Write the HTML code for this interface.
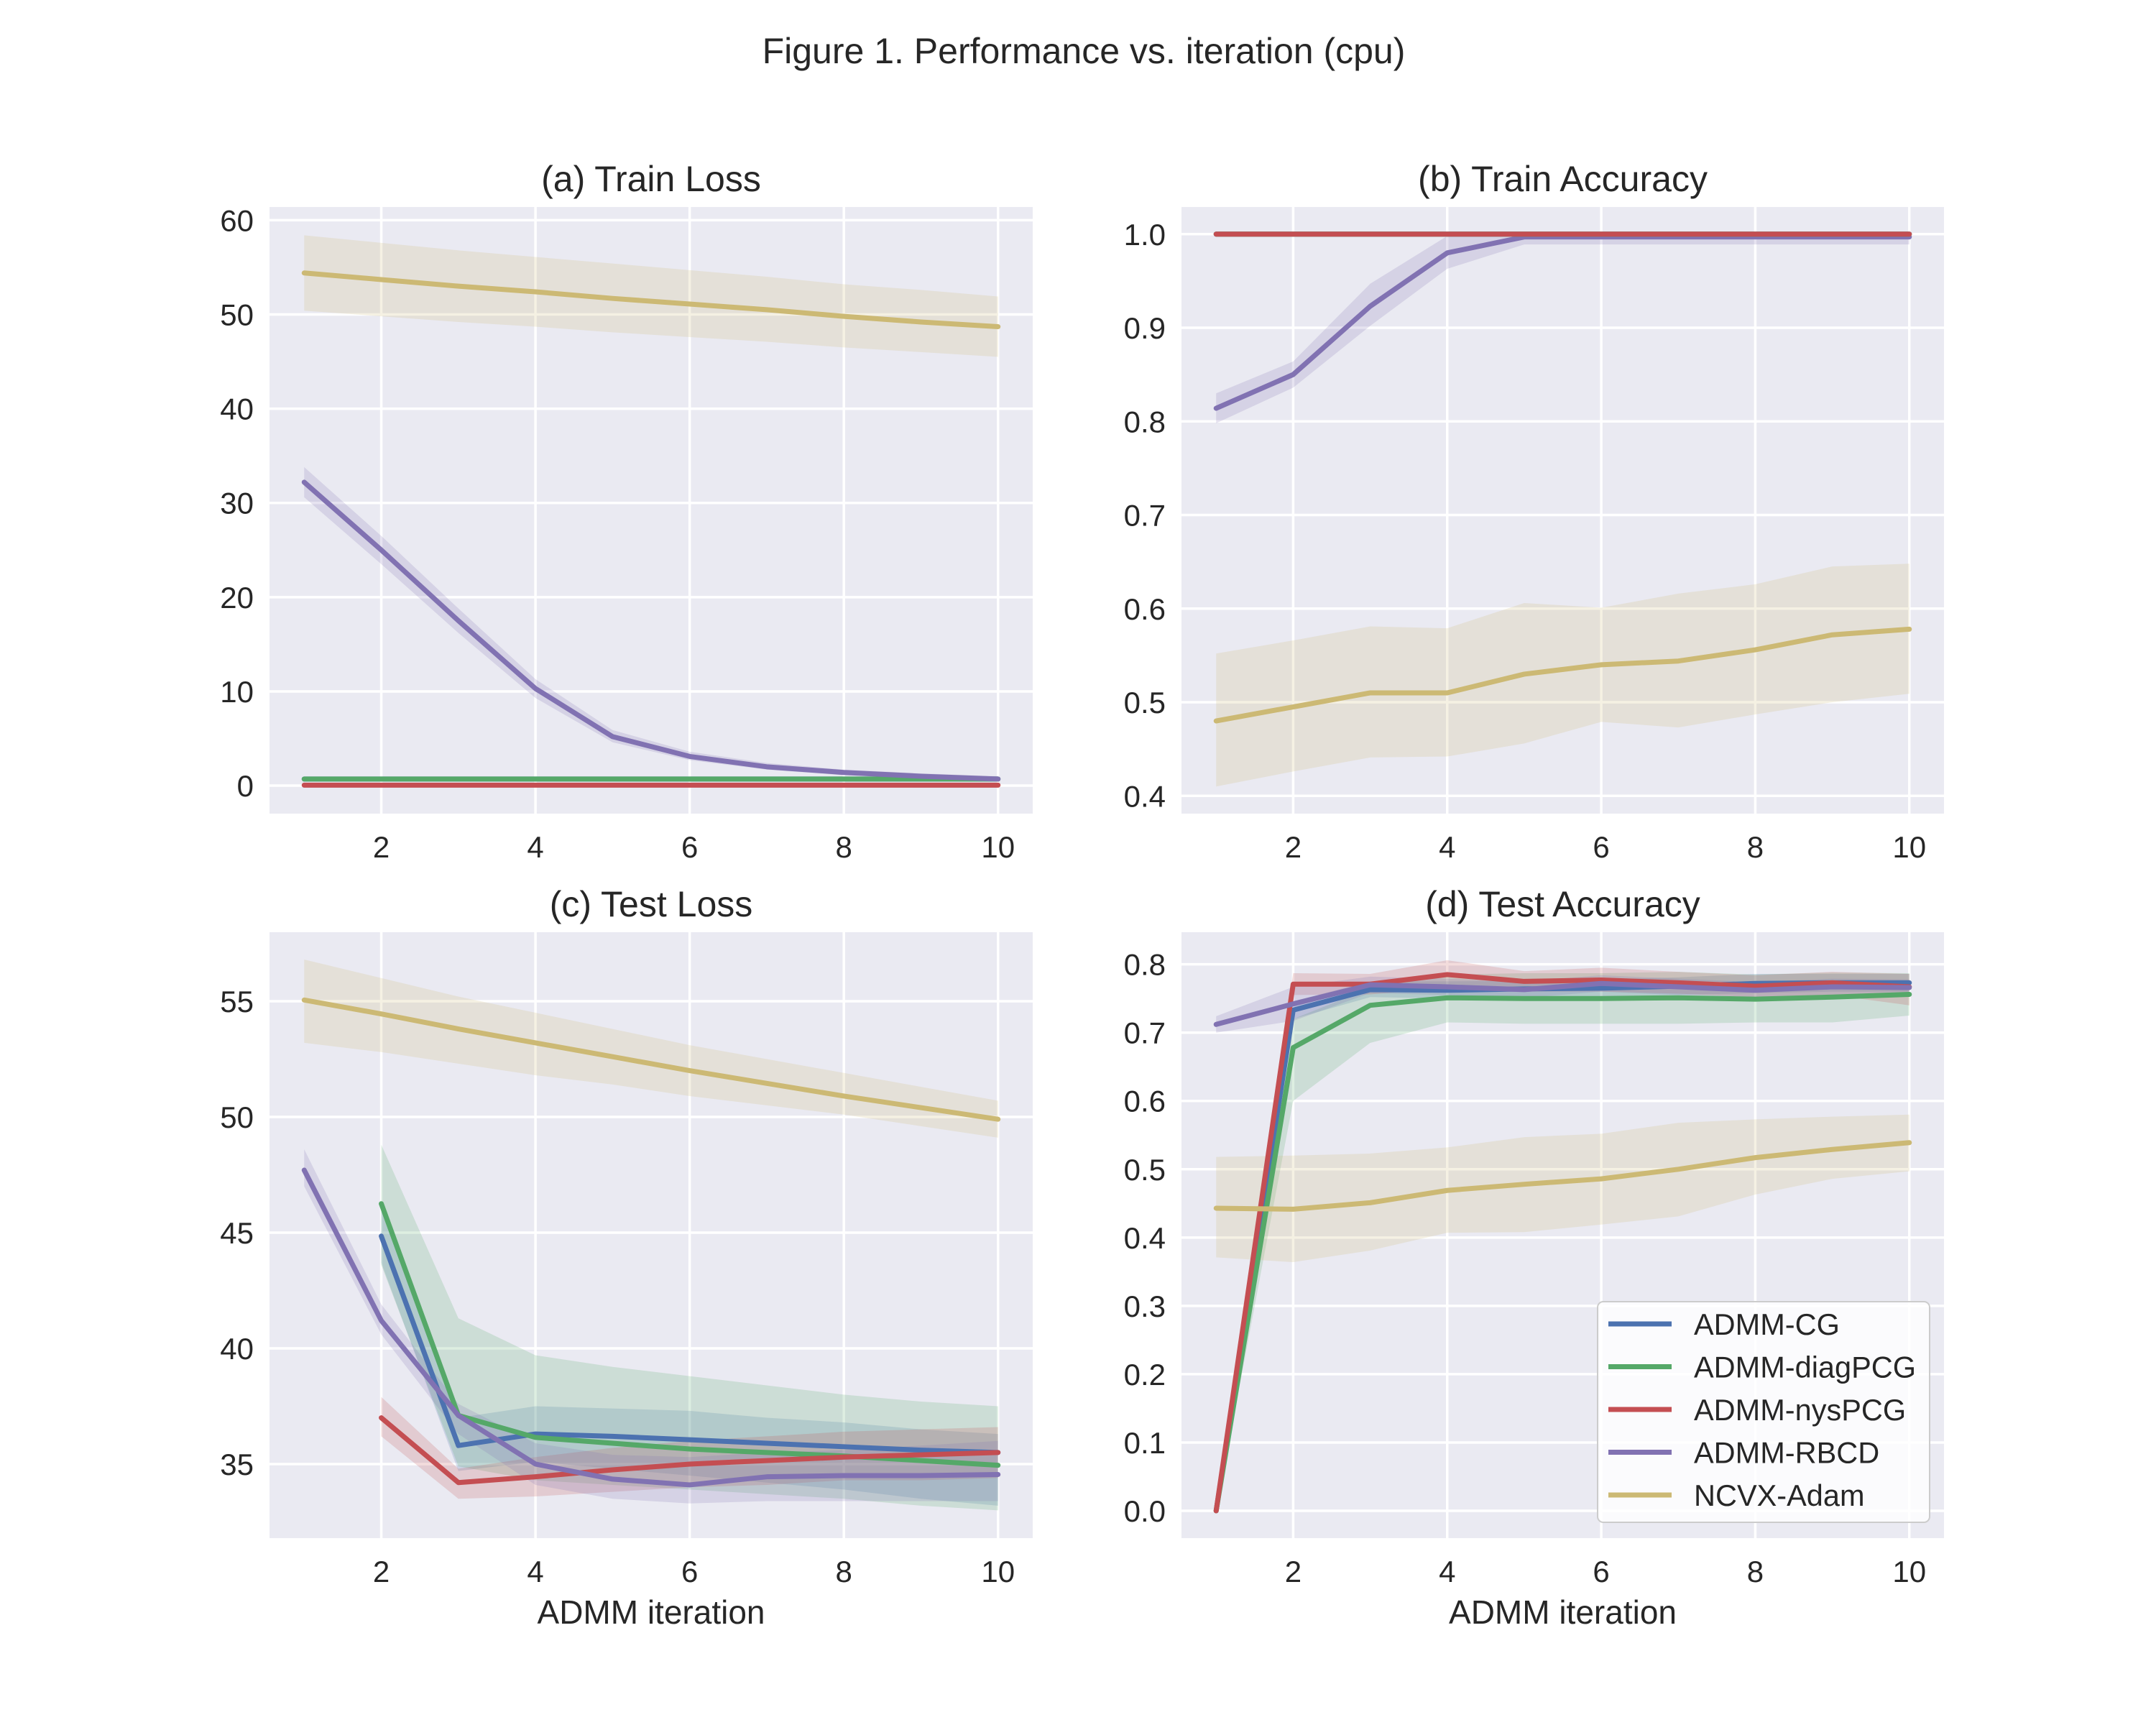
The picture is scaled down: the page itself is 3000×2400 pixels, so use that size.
<!DOCTYPE html>
<html><head><meta charset="utf-8"><style>
html,body{margin:0;padding:0;background:#fff;}
svg{display:block;font-family:"Liberation Sans",Arial,sans-serif;}
</style></head><body>
<svg id="fig" width="3000" height="2400" viewBox="0 0 3000 2400" xmlns="http://www.w3.org/2000/svg">
<rect width="3000" height="2400" fill="#fff"/>
<text x="1508" y="88" font-size="50" text-anchor="middle" fill="#262626">Figure 1. Performance vs. iteration (cpu)</text>
</svg>
<script>
const iters = [1,2,3,4,5,6,7,8,9,10];
// (a) Train Loss
const aCG = [0.7,0.7,0.7,0.7,0.7,0.7,0.7,0.7,0.7,0.7];
const aDiag = [0.7,0.7,0.7,0.7,0.7,0.7,0.7,0.7,0.7,0.7];
const aNys = [0.05,0.05,0.05,0.05,0.05,0.05,0.05,0.05,0.05,0.05];
const aRbcd = [32.2,25.0,17.5,10.3,5.2,3.1,2.0,1.4,1.0,0.7];
const aRbcdLo = [30.6,23.5,16.2,9.3,4.6,2.7,1.7,1.1,0.8,0.5];
const aRbcdHi = [33.8,26.5,18.8,11.3,5.9,3.6,2.4,1.7,1.3,1.0];
const aAdam = [54.4,53.7,53.0,52.4,51.7,51.1,50.5,49.8,49.2,48.7];
const aAdamLo = [50.4,49.8,49.2,48.7,48.1,47.6,47.1,46.5,46.0,45.5];
const aAdamHi = [58.4,57.6,56.8,56.1,55.4,54.7,54.0,53.2,52.6,51.9];
const aTicks = [0,10,20,30,40,50,60];
// (b) Train Accuracy
const bCG = [1,1,1,1,1,1,1,1,1,1];
const bDiag = [1,1,1,1,1,1,1,1,1,1];
const bNys = [1,1,1,1,1,1,1,1,1,1];
const bRbcd = [0.814,0.850,0.923,0.980,0.997,0.997,0.997,0.997,0.997,0.997];
const bRbcdLo = [0.798,0.836,0.902,0.963,0.989,0.989,0.989,0.989,0.989,0.989];
const bRbcdHi = [0.830,0.864,0.947,0.998,1.0,1.0,1.0,1.0,1.0,1.0];
const bAdam = [0.48,0.495,0.51,0.51,0.53,0.54,0.544,0.556,0.572,0.578];
const bAdamLo = [0.41,0.426,0.441,0.442,0.456,0.479,0.473,0.487,0.5,0.509];
const bAdamHi = [0.552,0.566,0.581,0.579,0.606,0.601,0.616,0.626,0.645,0.648];
const bTicks = [0.4,0.5,0.6,0.7,0.8,0.9,1.0];
// (c) Test Loss (ADMM-CG/diag/nys start at iteration 2)
const cCG = [null,44.85,35.8,36.3,36.2,36.05,35.9,35.75,35.6,35.5];
const cCGLo = [null,43.7,34.7,35.1,34.8,34.5,34.2,33.9,33.5,33.2];
const cCGHi = [null,46.0,37.0,37.5,37.4,37.3,37.0,36.8,36.5,36.3];
const cDiag = [null,46.25,37.1,36.15,35.9,35.65,35.5,35.35,35.15,34.95];
const cDiagLo = [null,43.6,34.9,34.3,34.1,33.9,33.7,33.5,33.2,33.0];
const cDiagHi = [null,48.8,41.3,39.7,39.2,38.8,38.4,38.0,37.7,37.5];
const cNys = [null,37.0,34.2,34.45,34.75,35.0,35.15,35.3,35.4,35.5];
const cNysLo = [null,36.2,33.5,33.6,33.8,34.0,34.1,34.3,34.3,34.4];
const cNysHi = [null,37.9,34.8,35.3,35.7,36.0,36.2,36.4,36.5,36.6];
const cRbcd = [47.7,41.2,37.1,35.0,34.35,34.1,34.45,34.5,34.5,34.55];
const cRbcdLo = [47.0,40.6,36.3,34.1,33.5,33.3,33.4,33.4,33.4,33.4];
const cRbcdHi = [48.6,41.9,37.6,35.9,35.4,35.3,35.5,35.6,35.8,36.0];
const cAdam = [55.05,54.45,53.8,53.2,52.6,52.0,51.45,50.9,50.4,49.9];
const cAdamLo = [53.2,52.8,52.3,51.8,51.4,50.9,50.5,50.1,49.6,49.1];
const cAdamHi = [56.8,56.0,55.2,54.5,53.8,53.1,52.5,51.9,51.3,50.7];
const cTicks = [35,40,45,50,55];
// (d) Test Accuracy
const dCG = [0,0.733,0.763,0.762,0.764,0.765,0.768,0.772,0.773,0.773];
const dCGLo = [0,0.72,0.752,0.75,0.752,0.752,0.755,0.758,0.76,0.76];
const dCGHi = [0,0.746,0.775,0.775,0.776,0.778,0.781,0.786,0.786,0.786];
const dDiag = [0,0.678,0.740,0.751,0.750,0.750,0.751,0.749,0.752,0.756];
const dDiagLo = [0,0.60,0.685,0.715,0.713,0.713,0.713,0.715,0.715,0.725];
const dDiagHi = [0,0.72,0.765,0.785,0.787,0.787,0.789,0.785,0.788,0.787];
const dNys = [0,0.771,0.771,0.785,0.775,0.777,0.773,0.768,0.773,0.767];
const dNysLo = [0,0.755,0.756,0.765,0.76,0.76,0.757,0.752,0.755,0.74];
const dNysHi = [0,0.787,0.786,0.806,0.79,0.795,0.789,0.784,0.789,0.786];
const dRbcd = [0.712,0.742,0.770,0.767,0.763,0.772,0.767,0.762,0.767,0.766];
const dRbcdLo = [0.70,0.717,0.758,0.755,0.751,0.760,0.755,0.750,0.755,0.754];
const dRbcdHi = [0.724,0.767,0.782,0.779,0.775,0.784,0.779,0.774,0.779,0.778];
const dAdam = [0.443,0.4415,0.451,0.469,0.478,0.486,0.50,0.517,0.529,0.539];
const dAdamLo = [0.371,0.364,0.381,0.407,0.408,0.419,0.431,0.463,0.486,0.497];
const dAdamHi = [0.518,0.52,0.523,0.532,0.547,0.552,0.568,0.573,0.577,0.58];
const dTicks = [0.0,0.1,0.2,0.3,0.4,0.5,0.6,0.7,0.8];
const xTicks = [2,4,6,8,10];
const seriesNames = ["ADMM-CG","ADMM-diagPCG","ADMM-nysPCG","ADMM-RBCD","NCVX-Adam"];
const seriesColors = ["#4c72b0","#55a868","#c44e52","#8172b2","#ccb974"];

const NS = "http://www.w3.org/2000/svg";
const svg = document.getElementById("fig");
function mk(tag, attrs, parent){
  const e = document.createElementNS(NS, tag);
  for (const k in attrs) e.setAttribute(k, attrs[k]);
  (parent||svg).appendChild(e);
  return e;
}
function fmt(v, dec){ return v.toFixed(dec); }

function panel(p){
  const g = mk("g", {});
  
  
  const xs = v => p.L + (v - 0.55) / (10.45 - 0.55) * (p.R - p.L);
  const ys = v => p.B - (v - p.ymin) / (p.ymax - p.ymin) * (p.B - p.T);
  const bg = mk("rect", {x:p.L, y:p.T, width:p.R-p.L, height:p.B-p.T, fill:"#eaeaf2"}, g);
  
  
  xTicks.forEach(t => {
    const ln = mk("line", {x1:xs(t), x2:xs(t), y1:p.T, y2:p.B, stroke:"#fff", "stroke-width":3.5}, g);
    
    
    const tx = mk("text", {x:xs(t), y:p.tickY, "font-size":42, "text-anchor":"middle", fill:"#262626"}, g);
    tx.textContent = t;
    
    
  });
  p.ticks.forEach(t => {
    const ln = mk("line", {x1:p.L, x2:p.R, y1:ys(t), y2:ys(t), stroke:"#fff", "stroke-width":3.5}, g);
    
    
    const tx = mk("text", {x:p.L-22, y:ys(t)+15, "font-size":42, "text-anchor":"end", fill:"#262626"}, g);
    tx.textContent = fmt(t, p.dec);
    
    
  });
  const ti = mk("text", {x:(p.L+p.R)/2, y:p.T-22, "font-size":50, "text-anchor":"middle", fill:"#262626"}, g);
  ti.textContent = p.title;
  
  
  if (p.xlabel){
    const xl = mk("text", {x:(p.L+p.R)/2, y:2259, "font-size":46, "text-anchor":"middle", fill:"#262626"}, g);
    xl.textContent = p.xlabel;
    
    
  }
  p.series.forEach((s, i) => {
    if (!s.lo) return;
    const idx = iters.map((v,j)=>j).filter(j => s.lo[j] !== null);
    let d = idx.map((j,k) => (k?"L":"M") + xs(iters[j]) + "," + ys(s.hi[j])).join(" ");
    d += " " + idx.slice().reverse().map(j => "L" + xs(iters[j]) + "," + ys(s.lo[j])).join(" ") + "Z";
    const band = mk("path", {d:d, fill:seriesColors[s.c], "fill-opacity":0.2, stroke:"none"}, g);
    
    
  });
  p.series.forEach((s, i) => {
    const idx = iters.map((v,j)=>j).filter(j => s.m[j] !== null);
    const pts = idx.map(j => xs(iters[j]) + "," + ys(s.m[j])).join(" ");
    const pl = mk("polyline", {points:pts, fill:"none", stroke:seriesColors[s.c], "stroke-width":7, "stroke-linecap":"round", "stroke-linejoin":"round"}, g);
    
    
  });
}

panel({name:"panel-train-loss", title:"(a) Train Loss", L:375, R:1437, T:288, B:1132, ymin:-2.97, ymax:61.4, ticks:aTicks, dec:0, tickY:1193,
  series:[{c:0,m:aCG},{c:1,m:aDiag},{c:2,m:aNys},{c:3,m:aRbcd,lo:aRbcdLo,hi:aRbcdHi},{c:4,m:aAdam,lo:aAdamLo,hi:aAdamHi}]});
panel({name:"panel-train-accuracy", title:"(b) Train Accuracy", L:1644, R:2705, T:288, B:1132, ymin:0.381, ymax:1.029, ticks:bTicks, dec:1, tickY:1193,
  series:[{c:3,m:bRbcd,lo:bRbcdLo,hi:bRbcdHi},{c:0,m:bCG},{c:1,m:bDiag},{c:2,m:bNys},{c:4,m:bAdam,lo:bAdamLo,hi:bAdamHi}]});
panel({name:"panel-test-loss", title:"(c) Test Loss", L:375, R:1437, T:1297, B:2140, ymin:31.8, ymax:57.98, ticks:cTicks, dec:0, tickY:2201, xlabel:"ADMM iteration",
  series:[{c:0,m:cCG,lo:cCGLo,hi:cCGHi},{c:1,m:cDiag,lo:cDiagLo,hi:cDiagHi},{c:2,m:cNys,lo:cNysLo,hi:cNysHi},{c:3,m:cRbcd,lo:cRbcdLo,hi:cRbcdHi},{c:4,m:cAdam,lo:cAdamLo,hi:cAdamHi}]});
panel({name:"panel-test-accuracy", title:"(d) Test Accuracy", L:1644, R:2705, T:1297, B:2140, ymin:-0.040, ymax:0.847, ticks:dTicks, dec:1, tickY:2201, xlabel:"ADMM iteration",
  series:[{c:0,m:dCG,lo:dCGLo,hi:dCGHi},{c:1,m:dDiag,lo:dDiagLo,hi:dDiagHi},{c:2,m:dNys,lo:dNysLo,hi:dNysHi},{c:3,m:dRbcd,lo:dRbcdLo,hi:dRbcdHi},{c:4,m:dAdam,lo:dAdamLo,hi:dAdamHi}]});

const lg = mk("g", {});


const lbox = mk("rect", {x:2223, y:1811, width:462, height:307, rx:8, fill:"#ffffff", "fill-opacity":0.8, stroke:"#cccccc", "stroke-width":2}, lg);


seriesNames.forEach((n, i) => {
  const y = 1842 + i * 59.5;
  const ln = mk("line", {x1:2238, x2:2326, y1:y, y2:y, stroke:seriesColors[i], "stroke-width":7}, lg);
  
  
  const tx = mk("text", {x:2357, y:y+15, "font-size":41.5, fill:"#262626"}, lg);
  tx.textContent = n;
  
  
});
</script>
</body></html>
